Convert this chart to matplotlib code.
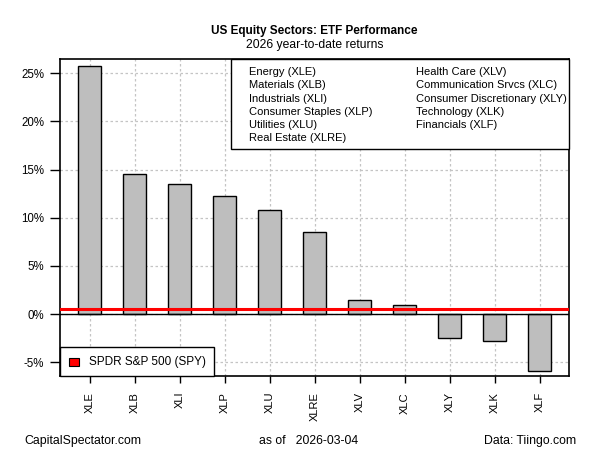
import numpy as np
import matplotlib
matplotlib.use("Agg")
import matplotlib.pyplot as plt
from matplotlib.patches import Rectangle

plt.rcParams["font.family"] = ["Liberation Sans", "DejaVu Sans"]

# Data
tickers = ["XLE", "XLB", "XLI", "XLP", "XLU", "XLRE", "XLV", "XLC", "XLY", "XLK", "XLF"]
returns = [25.75, 14.5, 13.47, 12.22, 10.77, 8.48, 1.42, 0.9, -2.52, -2.84, -5.92]
spy_return = 0.52
sector_names = ["Energy (XLE)", "Materials (XLB)", "Industrials (XLI)",
                "Consumer Staples (XLP)", "Utilities (XLU)", "Real Estate (XLRE)",
                "Health Care (XLV)", "Communication Srvcs (XLC)",
                "Consumer Discretionary (XLY)", "Technology (XLK)", "Financials (XLF)"]
y_ticks = [-5, 0, 5, 10, 15, 20, 25]

fig = plt.figure(figsize=(6, 4.5), dpi=100)
ax = fig.add_axes([0.1, 0.1644, 0.849, 0.7036])

x = np.arange(len(tickers))
ax.bar(x, returns, width=0.5, color="#bebebe", edgecolor="black", linewidth=1.0, zorder=3)
ax.axhline(0, color="black", linewidth=1.0, zorder=4)
ax.axhline(spy_return, color="#ff0000", linewidth=2.2, zorder=5)

ax.set_xlim(-0.66, 10.66)
ax.set_ylim(-6.44, 26.45)
ax.set_xticks(x)
ax.set_xticklabels(tickers, rotation=90, fontsize=8)
ax.set_yticks(y_ticks)
ax.set_yticklabels([f"{v}%" for v in y_ticks], fontsize=8.3)
ax.tick_params(axis="y", length=7.2, width=1.0, color="black", pad=4.3)
ax.tick_params(axis="x", length=5, width=1.0, color="black", pad=6.5)
ax.grid(True, color="#c4c4c4", linestyle=(0, (2, 2)), linewidth=0.9, zorder=0)
for s in ax.spines.values():
    s.set_linewidth(1.2)

# sector legend box (top right)
fig.patches.append(Rectangle((231 / 600, 1 - 149 / 450), (569.3 - 231) / 600, (149 - 59.3) / 450,
                             transform=fig.transFigure, facecolor="white", edgecolor="black",
                             linewidth=1.0, zorder=10))
for i, name in enumerate(sector_names):
    col = 0 if i < 6 else 1
    row = i if i < 6 else i - 6
    xx = 249 if col == 0 else 416
    yy = 72.3 + row * 13.2
    fig.text(xx / 600, 1 - yy / 450, name, fontsize=8, va="center", ha="left", zorder=11)

# SPY legend box (bottom left)
fig.patches.append(Rectangle((60 / 600, 1 - 376 / 450), (214 - 60) / 600, (376 - 347.3) / 450,
                             transform=fig.transFigure, facecolor="white", edgecolor="black",
                             linewidth=1.0, zorder=10))
fig.patches.append(Rectangle((69.3 / 600, 1 - 365.7 / 450), 9.4 / 600, 7.7 / 450,
                             transform=fig.transFigure, facecolor="#ff0000", edgecolor="black",
                             linewidth=0.8, zorder=11))
fig.text(89.3 / 600, 1 - 362 / 450, "SPDR S&P 500 (SPY)", fontsize=8.5, va="center", ha="left", zorder=11)

# titles and footer
fig.text(314.6 / 600, 1 - 31 / 450, "US Equity Sectors: ETF Performance", fontsize=8.5,
         fontweight="bold", ha="center", va="center")
fig.text(314.6 / 600, 1 - 45 / 450, "2026 year-to-date returns", fontsize=8.7, ha="center", va="center")
fig.text(24 / 600, 1 - 441 / 450, "CapitalSpectator.com", fontsize=8.8, ha="left", va="center")
fig.text(309 / 600, 1 - 441 / 450, "as of   2026-03-04", fontsize=8.8, ha="center", va="center")
fig.text(576 / 600, 1 - 441 / 450, "Data: Tiingo.com", fontsize=8.8, ha="right", va="center")

fig.savefig("out.png", dpi=100)
